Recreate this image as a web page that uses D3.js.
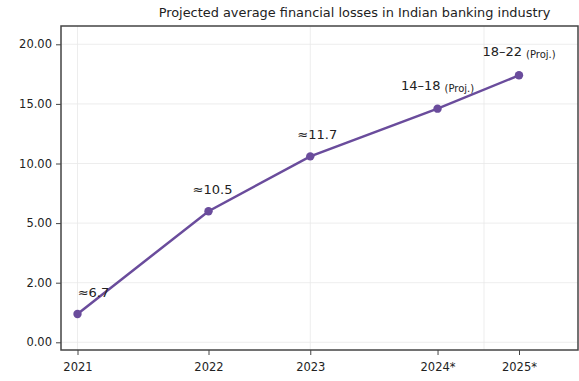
<!DOCTYPE html>
<html>
<head>
<meta charset="utf-8">
<script src="https://cdn.jsdelivr.net/npm/d3@7"></script>
<style>
  html, body { margin: 0; padding: 0; background: #fff; }
  svg { display: block; font-family: "DejaVu Sans", sans-serif; }
</style>
</head>
<body>
<div id="chart"></div>
<script>
// Dados
const years = ["2021", "2022", "2023", "2024*", "2025*"];
const xPositions = [0, 1.187, 2.109, 3.262, 4];       // posição das categorias no eixo x
const values = [0.95, 6.0, 10.6, 14.6, 17.4];
const pointLabels = ["≈6.7", "≈10.5", "≈11.7", "14–18", "18–22"];
const projSuffix = ["", "", "", "(Proj.)", "(Proj.)"];
const yTicks = [0, 2, 5, 10, 15, 20];
const xGrid = [0, 2.109, 3.683];
const title = "Projected average financial losses in Indian banking industry";

// Configuração
const width = 579, height = 381;
const frame = { left: 61, top: 26, right: 578, bottom: 350 };
const lineColor = "#6a4c9c";
const labelDx = [16, 4, 7, 0, 0];

const svg = d3.select("#chart").append("svg")
    .attr("width", width)
    .attr("height", height);

// Escalas (y com ticks igualmente espaçados)
const x = d3.scaleLinear().domain([0, 4]).range([77.5, 519]);
const y0 = 342.3, y1 = 44.3;
const y = d3.scaleLinear()
    .domain(yTicks)
    .range(yTicks.map((d, i) => y0 + (y1 - y0) * i / (yTicks.length - 1)));

// Grade
svg.append("g").selectAll("line.h")
    .data(yTicks).enter().append("line")
    .attr("x1", frame.left).attr("x2", frame.right)
    .attr("y1", d => y(d)).attr("y2", d => y(d))
    .attr("stroke", "#e8e8e8").attr("stroke-width", 0.8);

svg.append("g").selectAll("line.v")
    .data(xGrid).enter().append("line")
    .attr("x1", d => x(d)).attr("x2", d => x(d))
    .attr("y1", frame.top).attr("y2", frame.bottom)
    .attr("stroke", "#e8e8e8").attr("stroke-width", 0.8);

// Eixos
const yAxis = svg.append("g")
    .attr("transform", `translate(${frame.left},0)`)
    .call(d3.axisLeft(y).tickValues(yTicks).tickFormat(d3.format(".2f")).tickSize(5).tickPadding(4));
yAxis.select(".domain").remove();

const xAxis = svg.append("g")
    .attr("transform", `translate(0,${frame.bottom})`)
    .call(d3.axisBottom(x).tickValues(xPositions).tickFormat((d, i) => years[i]).tickSize(5).tickPadding(8));
xAxis.select(".domain").remove();

svg.selectAll(".tick line").attr("stroke", "#444").attr("stroke-width", 1);
svg.selectAll(".tick text").attr("fill", "#222").attr("font-size", 11.5)
    .attr("font-family", "DejaVu Sans, sans-serif");

// Moldura
svg.append("rect")
    .attr("x", frame.left).attr("y", frame.top)
    .attr("width", frame.right - frame.left)
    .attr("height", frame.bottom - frame.top)
    .attr("fill", "none")
    .attr("stroke", "#444")
    .attr("stroke-width", 1.5);

// Linha
const data = values.map((v, i) => ({ x: xPositions[i], v: v, label: pointLabels[i], proj: projSuffix[i], dx: labelDx[i] }));

svg.append("path")
    .datum(data)
    .attr("fill", "none")
    .attr("stroke", lineColor)
    .attr("stroke-width", 2.5)
    .attr("d", d3.line().x(d => x(d.x)).y(d => y(d.v)));

svg.append("g").selectAll("circle")
    .data(data).enter().append("circle")
    .attr("cx", d => x(d.x))
    .attr("cy", d => y(d.v))
    .attr("r", 4.2)
    .attr("fill", lineColor);

// Rótulos
const lbl = svg.append("g").selectAll("text")
    .data(data).enter().append("text")
    .attr("x", d => x(d.x) + d.dx)
    .attr("y", d => y(d.v) - (d.proj ? 19 : 17))
    .attr("text-anchor", "middle")
    .attr("fill", "#222")
    .attr("font-size", 13);

lbl.append("tspan").text(d => d.label);
lbl.filter(d => d.proj).append("tspan")
    .attr("font-size", 10)
    .attr("dx", 4)
    .attr("dy", 2)
    .text(d => d.proj);

// Título
svg.append("text")
    .attr("x", 354.5)
    .attr("y", 17)
    .attr("text-anchor", "middle")
    .attr("fill", "#222")
    .attr("font-size", 12.9)
    .text(title);
</script>
</body>
</html>
